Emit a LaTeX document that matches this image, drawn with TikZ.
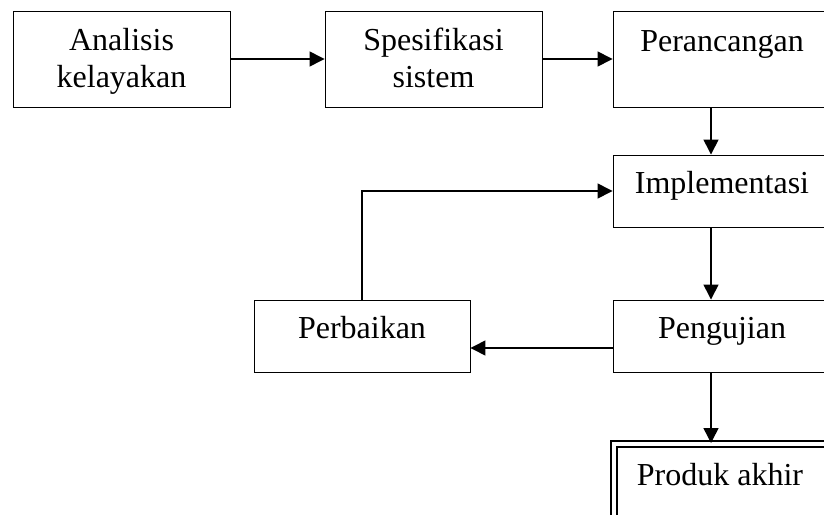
\documentclass[tikz,border=0pt]{standalone}
\usepackage{fontspec}
\setmainfont{Liberation Serif}
\usetikzlibrary{arrows.meta,positioning}

\begin{document}
\begin{tikzpicture}[x=0.75pt,y=-0.75pt]
\tikzstyle{blok}=[draw,line width=0.7pt,minimum width=162.75pt,minimum height=54pt,inner sep=0pt];
\tikzstyle{tinggi}=[blok,minimum height=72pt];
\tikzstyle{teks}=[font=\fontsize{24pt}{27.75pt}\selectfont,align=center,anchor=base,inner sep=0pt];
\tikzstyle{panah}=[line width=1.1pt,-{Triangle[length=11.25pt,width=11.25pt]}];

\useasboundingbox (0,0) rectangle (824,514);
\clip (0,0) rectangle (824,514);

% kotak
\node[tinggi] (analisis) at (121.5,59) {};
\node[tinggi] (spesifikasi) at (433.5,59) {};
\node[tinggi] (perancangan) at (721.5,59) {};
\node[blok] (implementasi) at (721.5,191) {};
\node[blok] (pengujian) at (721.5,336) {};
\node[blok,minimum width=162pt] (perbaikan) at (362,336) {};
\node[blok,double,double distance=3pt,line width=1.5pt,minimum width=165pt,
  minimum height=72pt] (produk) at (724,492) {};

% teks
\node[teks] at (121.5,87) {Analisis\\kelayakan};
\node[teks] at (433.5,87) {Spesifikasi\\sistem};
\node[teks] at (722,51) {Perancangan};
\node[teks] at (722,193) {Implementasi};
\node[teks] at (722,338) {Pengujian};
\node[teks] at (362,338) {Perbaikan};
\node[teks] at (720,485) {Produk akhir};

\coordinate (jalur) at (711,0);
\coordinate (balik) at (0,348);

\draw[panah] (analisis) -- (spesifikasi);
\draw[panah] (spesifikasi) -- (perancangan);
\draw[panah] (perancangan.south -| jalur) -- (implementasi.north -| jalur);
\draw[panah] (implementasi.south -| jalur) -- (pengujian.north -| jalur);
\draw[panah] (pengujian.west |- balik) -- (perbaikan.east |- balik);
\draw[panah] (perbaikan.north) |- (implementasi.west);
\draw[panah] (pengujian.south -| jalur) -- (produk.north -| jalur);
\end{tikzpicture}
\end{document}
